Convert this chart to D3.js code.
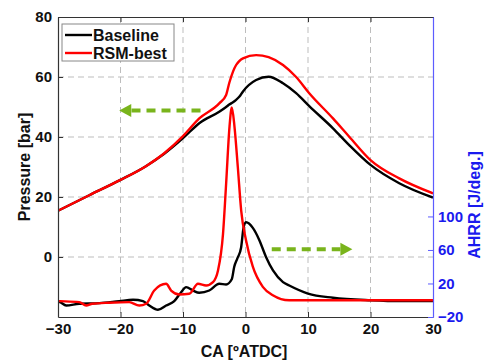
<!DOCTYPE html>
<html>
<head>
<meta charset="utf-8">
<script src="https://cdn.jsdelivr.net/npm/d3@7"></script>
<style>
  body { margin: 0; background: #fff; }
  text { font-family: "Liberation Sans", Arial, sans-serif; font-weight: bold; }
</style>
</head>
<body>
<div id="chart"></div>
<script>
// Pressure traces (left axis, bar)
const pressureCA = [-30, -25, -20, -16, -13, -10, -7.4, -4.2, -3.1, -2.6, -2.0, -1.5, -1.0, -0.4, 1.7, 3.7, 6.0, 8.1, 10.2, 14, 16.6, 20, 24.6, 30];
const pressureRSM = [15.4, 20.6, 25.7, 30.2, 34.6, 40.3, 46.2, 51.2, 54.0, 58.0, 61.8, 64.0, 65.3, 66.2, 67.3, 66.6, 64.0, 60.0, 54.6, 46.2, 40.1, 32.3, 26.2, 21.2];
const pressureBase = [15.4, 20.6, 25.7, 30.2, 34.4, 39.6, 44.6, 48.4, 50.0, 50.8, 51.6, 52.4, 53.4, 55.2, 59.0, 60.1, 57.9, 54.6, 50.3, 42.9, 37.3, 30.7, 24.6, 19.8];

// Heat release traces (right axis, J/deg.)
const ahrrBaseCA = [-30, -29.7, -28.7, -26.6, -23.4, -20.2, -18, -16.4, -15.4, -14, -12.7, -11.4, -10.3, -9.5, -8.4, -7.4, -5.8, -4.2, -3.1, -2.2, -1.8, -1.3, -0.7, -0.3, 0.1, 1.2, 2.2, 3.3, 4.4, 6, 7, 10, 14, 20, 25, 30];
const ahrrBase = [-2, -2.3, -6.3, -4.2, -3.5, -1.1, 0.5, -1.1, -6.3, -11.4, -6.3, -1.1, 9.6, 15.6, 11.6, 8.9, 11.6, 19.6, 18.8, 25, 40, 50, 63, 87, 93, 86, 72, 51.4, 35.5, 21.6, 17.6, 8, 3, 0, -1, -1];
const ahrrRSMCA = [-30, -29.7, -26.6, -25.5, -24.5, -21.8, -18.6, -17, -15.9, -14.6, -12.7, -11.9, -10.6, -9, -7.6, -6.3, -5.2, -4.4, -3.6, -3.1, -2.56, -2.19, -1.76, -1.23, -0.69, 0.1, 1.17, 2.77, 4.37, 7, 12, 20, 30];
const ahrrRSM = [-1, -1.1, -2.3, -6.3, -4.2, -3, -2.3, -6.3, -4.2, 11.6, 19.6, 11.6, 6.9, 7.7, 19.6, 17.6, 21.6, 35.5, 79, 139, 207, 230, 207, 159, 107, 71, 40, 16, 6, 0, 0, 0, 0];

const xTicks = [-30, -20, -10, 0, 10, 20, 30];
const pTicks = [0, 20, 40, 60, 80];
const hTicks = [-20, 20, 60, 100];
const legendLabels = ['Baseline', 'RSM-best'];

// green arrows: [fromCA, toCA, pressure]
const arrowLeft = [-7.2, -20.2, 48.8];
const arrowRight = [4.2, 17.1, 2.6];

const width = 485, height = 363;
const mLeft = 58, mRight = 433, mTop = 17, mBottom = 317;
const blue = '#1a1aee';
const green = '#79b41c';

const svg = d3.select('#chart').append('svg')
    .attr('width', width)
    .attr('height', height);

const x = d3.scaleLinear().domain([-30, 30]).range([mLeft, mRight]);
const yP = d3.scaleLinear().domain([-20, 80]).range([mBottom, mTop]);
const yH = d3.scaleLinear().domain([-20, 338]).range([mBottom, mTop]);

// Grid
const grid = svg.append('g').attr('stroke', '#bdbdbd').attr('stroke-dasharray', '6,4');
grid.selectAll('line.v').data(xTicks.slice(1, -1)).enter().append('line')
    .attr('x1', d => x(d)).attr('x2', d => x(d)).attr('y1', mTop).attr('y2', mBottom);
grid.selectAll('line.h').data([0, 20, 40, 60]).enter().append('line')
    .attr('x1', mLeft).attr('x2', mRight).attr('y1', d => yP(d)).attr('y2', d => yP(d));

// Lines
svg.append('clipPath').attr('id', 'clip').append('rect')
    .attr('x', mLeft).attr('y', mTop).attr('width', mRight - mLeft).attr('height', mBottom - mTop);
const plot = svg.append('g').attr('clip-path', 'url(#clip)');

const lineP = d3.line().x(d => x(d[0])).y(d => yP(d[1])).curve(d3.curveMonotoneX);
const lineH = d3.line().x(d => x(d[0])).y(d => yH(d[1])).curve(d3.curveMonotoneX);

const series = [
    { pts: d3.zip(ahrrBaseCA, ahrrBase), line: lineH, color: '#000' },
    { pts: d3.zip(pressureCA, pressureBase), line: lineP, color: '#000' },
    { pts: d3.zip(ahrrRSMCA, ahrrRSM), line: lineH, color: '#ff0000' },
    { pts: d3.zip(pressureCA, pressureRSM), line: lineP, color: '#ff0000' }
];
series.forEach(s => {
    plot.append('path')
        .datum(s.pts)
        .attr('fill', 'none')
        .attr('stroke', s.color)
        .attr('stroke-width', 2.4)
        .attr('stroke-linejoin', 'round')
        .attr('d', s.line);
});

// Arrows
function arrow(a, dir) {
    const yy = yP(a[2]);
    const tip = x(a[1]);
    const base = tip - dir * 12;
    svg.append('line')
        .attr('x1', x(a[0])).attr('x2', base).attr('y1', yy).attr('y2', yy)
        .attr('stroke', green).attr('stroke-width', 4).attr('stroke-dasharray', '9,6');
    svg.append('path')
        .attr('d', `M${tip},${yy} L${base},${yy - 6.5} L${base},${yy + 6.5} Z`)
        .attr('fill', green);
}
arrow(arrowLeft, -1);
arrow(arrowRight, 1);

// Axes
const fontSize = '15px';
const gx = svg.append('g').attr('transform', `translate(0,${mBottom})`)
    .call(d3.axisBottom(x).tickValues(xTicks).tickSize(-5).tickSizeOuter(0).tickPadding(6));
const gxTop = svg.append('g').attr('transform', `translate(0,${mTop})`)
    .call(d3.axisTop(x).tickValues(xTicks).tickSize(-5).tickSizeOuter(0).tickFormat(''));
const gy = svg.append('g').attr('transform', `translate(${mLeft},0)`)
    .call(d3.axisLeft(yP).tickValues(pTicks).tickSize(-5).tickSizeOuter(0).tickPadding(6));
const gyR = svg.append('g').attr('transform', `translate(${mRight},0)`)
    .call(d3.axisRight(yH).tickValues(hTicks).tickSize(-5).tickSizeOuter(0).tickPadding(5));

[gx, gxTop, gy].forEach(g => {
    g.select('.domain').attr('stroke', '#333').attr('stroke-width', 1.2);
    g.selectAll('.tick line').attr('stroke', '#333');
    g.selectAll('text').attr('fill', '#111').style('font-size', fontSize);
});
gyR.select('.domain').attr('stroke', '#5c5cff').attr('stroke-width', 1.2);
gyR.selectAll('.tick line').attr('stroke', '#5c5cff');
gyR.selectAll('text').attr('fill', blue).style('font-size', fontSize);

// Axis titles
svg.append('text')
    .attr('x', 244).attr('y', 357)
    .attr('text-anchor', 'middle')
    .style('font-size', '16px')
    .attr('fill', '#111')
    .text('CA [ºATDC]');
svg.append('text')
    .attr('transform', 'translate(30,167) rotate(-90)')
    .attr('text-anchor', 'middle')
    .style('font-size', '16px')
    .attr('fill', '#111')
    .text('Pressure [bar]');
svg.append('text')
    .attr('transform', 'translate(480,205) rotate(-90)')
    .attr('text-anchor', 'middle')
    .style('font-size', '16px')
    .attr('fill', blue)
    .text('AHRR [J/deg.]');

// Legend
const lg = svg.append('g');
lg.append('rect')
    .attr('x', 62).attr('y', 24).attr('width', 112).attr('height', 37)
    .attr('fill', '#fff').attr('stroke', '#888').attr('stroke-width', 1);
legendLabels.forEach((lab, i) => {
    const yy = 35 + i * 18;
    lg.append('line')
        .attr('x1', 65).attr('x2', 92).attr('y1', yy).attr('y2', yy)
        .attr('stroke', i === 0 ? '#000' : '#ff0000').attr('stroke-width', 2.4);
    lg.append('text')
        .attr('x', 93).attr('y', yy + 5.5)
        .style('font-size', '16px')
        .attr('fill', '#111')
        .text(lab);
});
</script>
</body>
</html>
